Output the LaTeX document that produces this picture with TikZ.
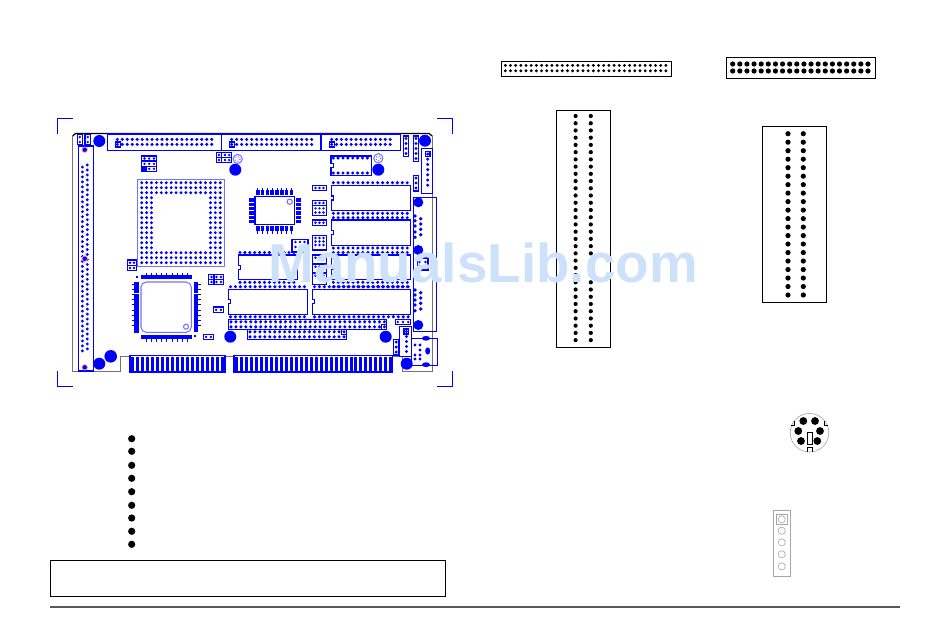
\documentclass[tikz,border=0pt]{standalone}
\usepackage{fontspec}
\setmainfont{Liberation Sans}
\definecolor{markcol}{HTML}{CEE1FA}
\tikzset{
  bline/.style={draw=blue, line width=.6pt},
  bfill/.style={fill=blue},
  lightline/.style={draw=blue!55, line width=.6pt},
  edgeline/.style={draw=black!55, line width=.7pt},
  kline/.style={draw=black, line width=.7pt},
  gline/.style={draw=black!35, line width=.35pt}
}
% dip body with its notch: x0,y0,x1,y1
\newcommand{\dipbody}[4]{
  \draw [bline] (#1,{(#2+#4)/2-2}) -- (#1,#2) -- (#3,#2) -- (#3,#4) -- (#1,#4) -- (#1,{(#2+#4)/2+2})
    -- (#1+2.5,{(#2+#4)/2+2}) -- (#1+2.5,{(#2+#4)/2-2}) -- cycle;
}
% row of blue pins: x0,spacing,last index,y
\newcommand{\pinrow}[4]{
  \foreach \i in {0,...,#3} \fill [blue] (#1+\i*#2,#4) circle (1.7);
}
\newcommand{\pincol}[4]{
  \foreach \i in {0,...,#3} \fill [blue] (#4,#1+\i*#2) circle (1.7);
}
\begin{document}
\begin{tikzpicture}[x=.02cm,y=-.02cm]
  \useasboundingbox (0,0) rectangle (950,633);

  % crop marks
  \draw [bline] (57.3,134) -- (57.3,118.3) -- (73,118.3);
  \draw [bline] (437,118.3) -- (452.3,118.3) -- (452.3,134);
  \draw [bline] (57.3,371) -- (57.3,386.3) -- (73,386.3);
  \draw [bline] (437,386.3) -- (452.3,386.3) -- (452.3,371);

  % board outline
  \draw [edgeline] (130,356.5) -- (120.7,356.5) -- (120.7,371.3) -- (72.7,371.3) -- (72.7,136);
  \draw [edgeline] (225,356.5) -- (234,356.5);
  \draw [edgeline] (393,356.5) -- (402.7,356.5) -- (402.7,371.5) -- (432.2,371.5) -- (432.2,136);
  \draw [line width=.7pt] (72.7,136) -- (75.5,133.5) -- (429,133.5) -- (432.2,136);

  % left connector
  \draw [bline] (78.3,146) rectangle (93.3,371);
  \foreach \i in {0,...,37} {
    \fill [blue] (82.4,167+\i*4.97) circle (1.6);
    \fill [blue] (87.3,165+\i*4.97) circle (1.6);
  }
  \foreach \p in {149.7,258.7,367.3} {
    \fill [red!40] (84.7,\p) circle (3.2);
    \fill [blue] (84.7,\p) circle (2.2);
  }
  \draw [bline] (77.3,134.5) rectangle (82.3,144.7);
  \draw [bline] (85,134.5) rectangle (90.7,144.7);
  \foreach \a in {79.8,87.8} \foreach \b in {137,142} \fill [blue] (\a,\b) circle (1.3);

  % top connectors
  \draw [bline] (107.3,134) rectangle (400.7,150.7);
  \draw [bline] (221.7,134) -- (221.7,150.7);
  \draw [bline] (321,134) -- (321,150.7);
  \foreach \r in {139.4,144.4} {
    \pinrow{117.3}{4.97}{19}{\r}
    \pinrow{231.7}{5}{16}{\r}
    \pinrow{331.7}{4.87}{12}{\r}
  }
  \foreach \s in {117.7,231.7,331.7} \draw [bline] (\s-2.5,142) rectangle (\s+2.5,147);

  % mounting holes
  \foreach \a/\b/\c in {99.3/141/6, 235.3/169.7/6, 425/140.7/6, 378.3/169.7/6, 418.3/202.3/5,
      418.3/250/5, 418.3/325/5, 385.7/336.7/6, 406.7/363.7/6, 230.3/336.7/6, 99.3/363.7/6, 110.7/356.3/6.3}
    \fill [blue] (\a,\b) circle (\c);

  % dotted test rings
  \foreach \a/\b in {237.7/159, 378.3/158.3} {
    \draw [lightline] (\a,\b) circle (4.6);
    \draw [lightline, densely dotted] (\a,\b) circle (2.4);
  }

  % jumpers
  \draw [bline] (141.3,156) rectangle (156.7,171.7);
  \draw [bline] (141.3,161) -- (156.7,161);
  \draw [bline] (141.3,166.5) -- (156.7,166.5);
  \fill [blue] (141.3,166.5) rectangle (146.5,171.7);
  \foreach \a in {144.5,149.2,154} \foreach \b in {158.5,163.8,168.8} \fill [blue] (\a,\b) circle (1.3);

  \draw [bline] (216.3,152.3) rectangle (231.7,162.7);
  \draw [bline] (216.3,157.5) -- (231.7,157.5);
  \draw [bline] (221.7,152.3) -- (221.7,162.7);
  \foreach \a in {219,225,229.2} \foreach \b in {155,160} \fill [blue] (\a,\b) circle (1.3);

  \draw [bline] (127.3,260) rectangle (136.7,270.7);
  \draw [bline] (127.3,265.3) -- (136.7,265.3);
  \foreach \a in {130,134} \foreach \b in {262.7,268} \fill [blue] (\a,\b) circle (1.3);

  \draw [bline] (208.7,274.3) rectangle (223.7,284.7);
  \draw [bline] (208.7,279.5) -- (223.7,279.5);
  \draw [bline] (214,274.3) -- (214,284.7);
  \foreach \a in {211.5,216.5,221} \foreach \b in {277,282} \fill [blue] (\a,\b) circle (1.3);

  \foreach \a/\b/\c/\d in {213.3/307/223.7/312.7, 203.3/334.3/213.7/339.5} {
    \draw [bline] (\a,\b) rectangle (\c,\d);
    \fill [blue] (\a+2.8,{(\b+\d)/2}) circle (1.3);
    \fill [blue] (\c-2.8,{(\b+\d)/2}) circle (1.3);
  }

  % pga socket
  \draw [lightline] (137.7,179.3) rectangle (224.3,266.3);
  \foreach \i in {0,...,16} \foreach \j in {0,...,16} {
    \pgfmathparse{(\i<3 || \i>13 || \j<3 || \j>13) ? 1 : 0}
    \ifnum\pgfmathresult=1
      \fill [blue] (141.7+\i*4.91,182.7+\j*5) circle (1.6);
    \fi
  }

  % small qfp
  \draw [bline] (255,196.3) rectangle (294.7,224.7);
  \foreach \i in {0,...,7} {
    \fill [blue] (256+\i*4.8,190) rectangle (259.6+\i*4.8,195);
    \fill [blue] (256+\i*4.8,226) rectangle (259.6+\i*4.8,231);
    \draw [bline, line width=.4pt] (257.8+\i*4.8,187.5) -- (257.8+\i*4.8,190);
    \draw [bline, line width=.4pt] (257.8+\i*4.8,231) -- (257.8+\i*4.8,233.5);
  }
  \foreach \i in {0,...,5} {
    \fill [blue] (248.8,198.3+\i*4.3) rectangle (254,201.6+\i*4.3);
    \fill [blue] (295.8,198.3+\i*4.3) rectangle (301,201.6+\i*4.3);
  }
  \draw [lightline] (289.7,201.7) circle (2.6);

  % small headers by the ram
  \foreach \a/\b in {185.3/190.7, 220/225.7, 200.3/205.7, 205.7/215.3, 235.3/250, 255/264, 264/273, 273/284.7} {
    \draw [bline] (312.3,\a) rectangle (326.7,\b);
    \foreach \c in {315.5,319.5,323.5} \fill [blue] (\c,{\a+2.7}) circle (1.3);
  }
  \foreach \c in {315.5,319.5,323.5} {
    \fill [blue] (\c,212.5) circle (1.3);
    \fill [blue] (\c,245) circle (1.3);
    \fill [blue] (\c,241.5) circle (1.3);
  }
  \draw [bline] (292,239.3) rectangle (308,252);
  \foreach \c in {295.5,300,304.5} \foreach \d in {242,247} \fill [blue] (\c,\d) circle (1.3);

  % dip chips
  \dipbody{331}{156}{371.7}{175.3}
  \foreach \r in {158,173} {\pinrow{333.3}{4.86}{7}{\r}}
  \dipbody{331.3}{185.3}{410.7}{210.7}
  \dipbody{331.3}{220}{410.7}{245.7}
  \dipbody{331.3}{255}{410.7}{279.7}
  \foreach \r in {182.7,213.3,217.7,248,252.5,282.3,286.7} {\pinrow{333.3}{4.93}{15}{\r}}
  \dipbody{238.3}{255}{297.7}{279.7}
  \foreach \r in {252.5,282.3} {\pinrow{240}{4.9}{11}{\r}}
  \dipbody{228.3}{289.3}{307.3}{314.3}
  \dipbody{312.3}{289.3}{410.7}{314.3}
  \foreach \r in {286.7,316.8} {\pinrow{230.5}{4.93}{15}{\r} \pinrow{314.5}{4.93}{19}{\r}}

  % long headers
  \draw [bline] (228.3,319.3) rectangle (386.7,329.3);
  \draw [bline] (247.3,329.3) rectangle (346.7,339.3);
  \foreach \r in {321.8,326.8} {\pinrow{231}{4.95}{31}{\r}}
  \foreach \r in {331.8,336.8} {\pinrow{250}{4.95}{19}{\r}}
  \draw [bline] (381.5,324.5) rectangle (386.7,329.3);
  \draw [bline] (341.5,329.3) rectangle (346.7,334.2);

  % qfp with rounded body
  \draw [lightline, rounded corners=3] (141,282) rectangle (191.3,332.3);
  \draw [lightline] (186,326.7) circle (2.5);
  \fill [blue] (134,282) rectangle (138.7,292.7);
  \fill [blue] (134,294) rectangle (138.7,332.7);
  \fill [blue] (194,282) rectangle (198.3,293);
  \fill [blue] (194,294) rectangle (198.3,332);
  \fill [blue] (141,275) rectangle (192,279.3);
  \fill [blue] (141,334.7) rectangle (192,339);
  \fill [blue] (136,276) rectangle (138,278);
  \fill [blue] (194.3,335.3) rectangle (196.3,337.3);
  \foreach \i in {0,...,8} {
    \draw [bline, line width=.4pt] (146+\i*5.2,272.5) -- (146+\i*5.2,275);
    \draw [bline, line width=.4pt] (146+\i*5.2,339) -- (146+\i*5.2,341.5);
    \draw [bline, line width=.4pt] (131.5,284+\i*5.2) -- (134,284+\i*5.2);
    \draw [bline, line width=.4pt] (198.3,284+\i*5.2) -- (200.8,284+\i*5.2);
  }

  % right side connectors
  \draw [bline] (421.3,148.3) rectangle (432.3,193.3);
  \pincol{154}{5.2}{6}{427.7}
  \draw [bline] (425.5,151.5) rectangle (430,156.5);
  \draw [bline] (403.3,136) rectangle (408.7,156.7);
  \pincol{138.5}{5}{3}{406}
  \draw [bline] (413.3,136) rectangle (418.7,161.7);
  \pincol{138.5}{5}{4}{416}
  \draw [bline] (413.3,175.3) rectangle (418.7,191);
  \pincol{178}{5}{2}{416}

  % db connectors
  \draw [bline] (413.3,197.3) rectangle (436.7,331.7);
  \foreach \p in {216,220.7,226,232,237.3, 290,295,300,305,310.7} \fill [blue] (415,\p) circle (1.9);
  \foreach \p in {218.7,224,229.3,234.7, 292.7,298,303.3,309} \fill [blue] (420.7,\p) circle (1.9);

  \draw [bline] (417.5,258) rectangle (428,270);
  \foreach \a in {419.5,425.5} \foreach \b in {262,266} \fill [blue] (\a,\b) circle (1.3);

  % bottom right corner
  \draw [bline] (395.3,319.3) rectangle (410.7,324.7);
  \foreach \a in {397.8,403,408.2} \fill [blue] (\a,322) circle (1.3);
  \draw [bline] (399.3,326.3) rectangle (411.7,356.7);
  \draw [bline] (404,329) rectangle (408.5,334);
  \pincol{331.5}{5}{4}{406.5}
  \draw [bline] (393.3,339.3) rectangle (399,355);
  \pincol{342}{5}{2}{396.2}
  \draw [bline] (411.7,338.3) rectangle (437.7,365.3);
  \fill [blue] (426,338.3) ellipse (4 and 2.4);
  \fill [blue] (426,364.7) ellipse (4 and 2.4);
  \fill [blue] (427.7,351) ellipse (2.5 and 3.6);
  \foreach \a/\b in {415/345, 420/345, 420/350, 415/355, 420/355, 420/359, 415/359} \fill [blue] (\a,\b) circle (1.7);

  % edge fingers
  \foreach \i in {0,...,18} \fill [blue] (131.2+\i*4.98,356.5) rectangle (134.2+\i*4.98,372);
  \foreach \i in {0,...,31} \fill [blue] (235.2+\i*4.97,356.5) rectangle (238.2+\i*4.97,372);
  \draw [bline] (130,355.5) rectangle (225,372.5);
  \draw [bline] (234,355.5) rectangle (392.7,372.5);
  \fill [blue] (130,371) rectangle (225,372.7);
  \fill [blue] (234,371) rectangle (392.7,372.7);

  % wide black connectors
  \draw [kline] (501.3,61.3) rectangle (671.7,76.3);
  \foreach \i in {0,...,31} \foreach \r in {65.4,70.8} \fill (505.3+\i*5.18,\r) circle (1.6);
  \draw [kline] (726.3,57.3) rectangle (875.7,78.3);
  \foreach \i in {0,...,19} \foreach \r in {64,71} \fill (732.7+\i*7.12,\r) circle (2.6);

  % tall black connectors
  \draw [kline] (556.3,110.3) rectangle (610.7,347.3);
  \foreach \i in {0,...,31} \foreach \c in {575.6,590.8} \fill (\c,116+\i*7.23) circle (2.1);
  \draw [kline] (762.3,126.3) rectangle (826.3,302.3);
  \foreach \i in {0,...,19} \foreach \c in {788,803.3} \fill (\c,133.7+\i*8.49) circle (2.6);

  % bullets
  \foreach \p in {438.7,451.3,465.3,478.3,491.7,505.3,518,531.3,544.3}
    \fill (131.7,\p) circle (3.6);

  % note box and footer rule
  \draw [kline] (50.3,560.3) rectangle (445.7,596.3);
  \draw [draw=black!65, line width=.8pt] (50,607) -- (900,607);

  % mini din
  \draw [gline] (809.5,432.7) circle (19.3);
  \foreach \a/\b in {803.3/421, 815/421, 798.3/431, 820/431, 801/441, 817.3/441}
    \fill (\a,\b) circle (3.9);
  \draw [kline, line width=.5pt] (807.3,432.7) rectangle (812.7,444.3);
  \draw [kline, line width=.5pt] (807,452) -- (807,447.7) -- (812.7,447.7) -- (812.7,452);
  \draw [kline, line width=.5pt] (790.7,425.7) -- (794,425.7) -- (794,421);
  \draw [kline, line width=.5pt] (828,425.7) -- (824.5,425.7) -- (824.5,421);

  % power header
  \draw [gline, line width=.5pt] (773.7,510.7) rectangle (790.3,576);
  \draw [gline] (776.3,514) rectangle (787,524.3);
  \foreach \p in {519.3,530.7,542.3,554.3,566.3} \draw [gline] (781.7,\p) circle (3.6);

  % watermark
  \node [anchor=base west, inner sep=0, text=markcol, font=\bfseries\fontsize{31.2}{31.2}\selectfont] (mark) at (268,282.5) {ManualsLib.com};
\end{tikzpicture}
\end{document}
